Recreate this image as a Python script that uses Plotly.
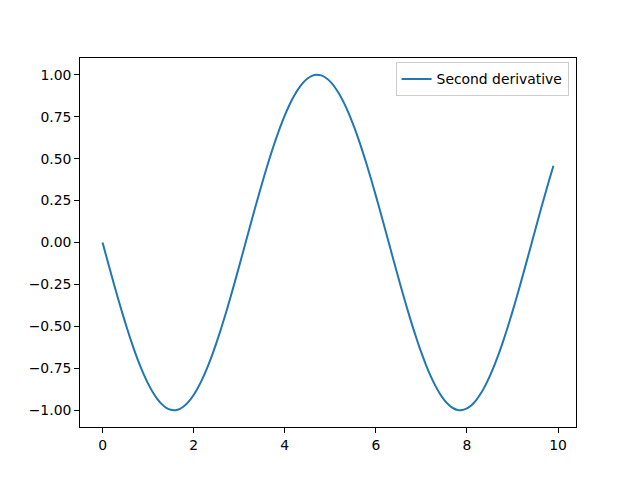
import plotly.graph_objects as go

x_vals = [0.0, 0.1, 0.2, 0.3, 0.4, 0.5, 0.6, 0.7, 0.8, 0.9,
          1.0, 1.1, 1.2, 1.3, 1.4, 1.5, 1.6, 1.7, 1.8, 1.9,
          2.0, 2.1, 2.2, 2.3, 2.4, 2.5, 2.6, 2.7, 2.8, 2.9,
          3.0, 3.1, 3.2, 3.3, 3.4, 3.5, 3.6, 3.7, 3.8, 3.9,
          4.0, 4.1, 4.2, 4.3, 4.4, 4.5, 4.6, 4.7, 4.8, 4.9,
          5.0, 5.1, 5.2, 5.3, 5.4, 5.5, 5.6, 5.7, 5.8, 5.9,
          6.0, 6.1, 6.2, 6.3, 6.4, 6.5, 6.6, 6.7, 6.8, 6.9,
          7.0, 7.1, 7.2, 7.3, 7.4, 7.5, 7.6, 7.7, 7.8, 7.9,
          8.0, 8.1, 8.2, 8.3, 8.4, 8.5, 8.6, 8.7, 8.8, 8.9,
          9.0, 9.1, 9.2, 9.3, 9.4, 9.5, 9.6, 9.7, 9.8, 9.9]

second_derivative = [
    0.0, -0.0998, -0.1987, -0.2955, -0.3894, -0.4794, -0.5646, -0.6442, -0.7174, -0.7833,
    -0.8415, -0.8912, -0.9320, -0.9636, -0.9854, -0.9975, -0.9996, -0.9917, -0.9738, -0.9463,
    -0.9093, -0.8632, -0.8085, -0.7457, -0.6755, -0.5985, -0.5155, -0.4274, -0.3350, -0.2392,
    -0.1411, -0.0416, 0.0584, 0.1577, 0.2555, 0.3508, 0.4425, 0.5298, 0.6119, 0.6878,
    0.7568, 0.8183, 0.8716, 0.9162, 0.9516, 0.9775, 0.9937, 0.9999, 0.9962, 0.9825,
    0.9589, 0.9258, 0.8835, 0.8323, 0.7728, 0.7055, 0.6313, 0.5507, 0.4646, 0.3739,
    0.2794, 0.1822, 0.0831, -0.0168, -0.1165, -0.2151, -0.3115, -0.4048, -0.4941, -0.5784,
    -0.6570, -0.7290, -0.7937, -0.8504, -0.8987, -0.9380, -0.9679, -0.9882, -0.9985, -0.9989,
    -0.9894, -0.9699, -0.9407, -0.9022, -0.8546, -0.7985, -0.7344, -0.6630, -0.5849, -0.5010,
    -0.4121, -0.3191, -0.2229, -0.1245, -0.0248, 0.0752, 0.1743, 0.2718, 0.3665, 0.4575]

x_ticks = [0, 2, 4, 6, 8, 10]
y_ticks = [-1.0, -0.75, -0.5, -0.25, 0.0, 0.25, 0.5, 0.75, 1.0]
y_tick_labels = ["\u22121.00", "\u22120.75", "\u22120.50", "\u22120.25", "0.00", "0.25", "0.50", "0.75", "1.00"]
series_name = "Second derivative"

fig = go.Figure()
fig.add_trace(go.Scatter(x=x_vals, y=second_derivative, mode="lines", name=series_name,
                         line=dict(color="#1f77b4", width=2, shape="spline", smoothing=0.6)))

axis_common = dict(showgrid=False, zeroline=False, showline=True, linecolor="black", linewidth=1,
                   mirror=True, ticks="outside", ticklen=4.9, tickwidth=1.1, tickcolor="black",
                   tickfont=dict(family="DejaVu Sans", size=13.9, color="black"))

fig.update_xaxes(range=[-0.495, 10.395], tickvals=x_ticks, ticktext=[str(t) for t in x_ticks], **axis_common)
fig.update_yaxes(range=[-1.1, 1.1], tickvals=y_ticks, ticktext=y_tick_labels, **axis_common)

fig.update_layout(
    width=632, height=472,
    margin=dict(l=72, r=64, t=50, b=53, autoexpand=False),
    paper_bgcolor="white", plot_bgcolor="white",
    showlegend=True,
    legend=dict(x=0.985, y=0.988, xanchor="right", yanchor="top",
                bgcolor="rgba(255,255,255,0.8)", bordercolor="#cccccc", borderwidth=1,
                font=dict(family="DejaVu Sans", size=13.9, color="black")),
)

fig.write_html("out.html")
